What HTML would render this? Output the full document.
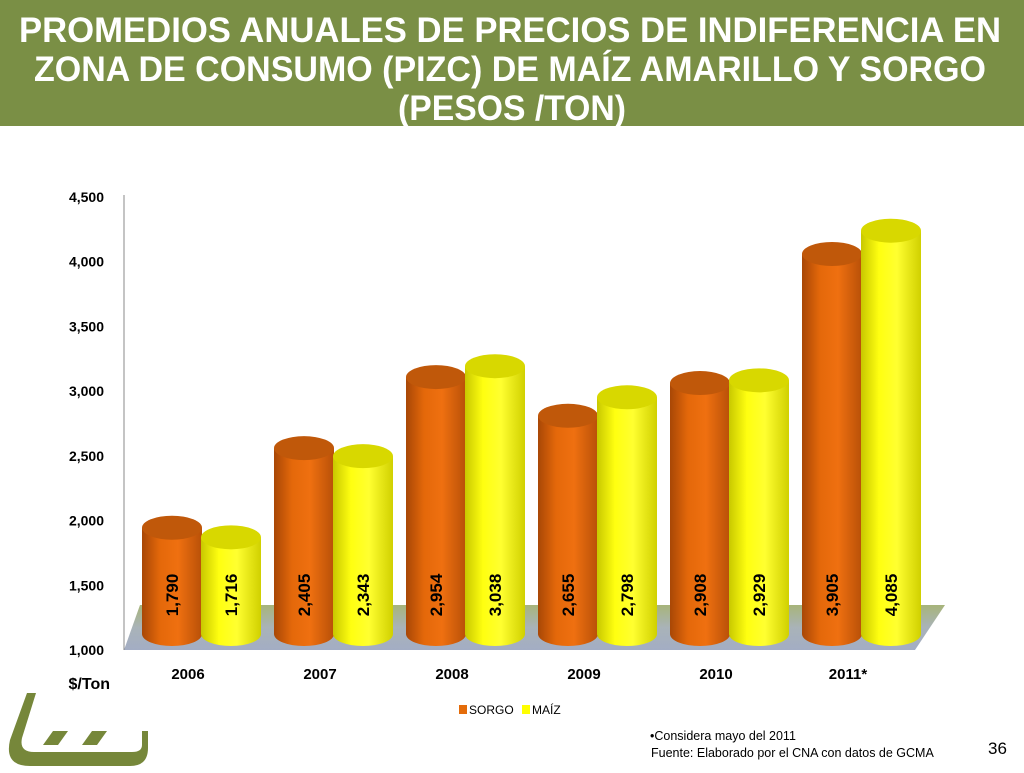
<!DOCTYPE html>
<html><head><meta charset="utf-8"><style>
body{margin:0;width:1024px;height:768px;overflow:hidden;background:#fff;font-family:"Liberation Sans",sans-serif}
</style></head><body>
<svg width="1024" height="768" viewBox="0 0 1024 768">
<defs>
<linearGradient id="gOr" x1="0" x2="1"><stop offset="0" stop-color="#a84706"/><stop offset="0.3" stop-color="#e4680a"/><stop offset="0.6" stop-color="#ef7010"/><stop offset="1" stop-color="#b85008"/></linearGradient>
<linearGradient id="gYe" x1="0" x2="1"><stop offset="0" stop-color="#c8c800"/><stop offset="0.3" stop-color="#ffff10"/><stop offset="0.6" stop-color="#ffff30"/><stop offset="1" stop-color="#d0d000"/></linearGradient>
<linearGradient id="gFloor" x1="0" y1="0" x2="0" y2="1"><stop offset="0" stop-color="#a7b47a"/><stop offset="0.5" stop-color="#a9b3b8"/><stop offset="1" stop-color="#a3adc4"/></linearGradient>
</defs>
<rect x="0" y="0" width="1024" height="126" fill="#7a8f45"/>
<g fill="#fff" font-weight="bold" font-size="35" text-anchor="middle">
<text x="510" y="42" textLength="982" lengthAdjust="spacingAndGlyphs">PROMEDIOS ANUALES DE PRECIOS DE INDIFERENCIA EN</text>
<text x="510" y="81" textLength="952" lengthAdjust="spacingAndGlyphs">ZONA DE CONSUMO (PIZC) DE MAÍZ AMARILLO Y SORGO</text>
<text x="512" y="120" textLength="228" lengthAdjust="spacingAndGlyphs">(PESOS /TON)</text>
</g>
<polygon points="124,650 140,605 945,605 915,650" fill="url(#gFloor)"/>
<line x1="124" y1="195" x2="124" y2="650" stroke="#888" stroke-width="1"/>
<g id="yticks" font-weight="bold" font-size="14" fill="#000" text-anchor="end"></g>
<text x="110" y="689" font-weight="bold" font-size="16" text-anchor="end">$/Ton</text>
<g id="bars"></g>
<g id="xlabels" font-weight="bold" font-size="15" text-anchor="middle"></g>
<g font-size="12">
<rect x="459" y="705" width="8" height="9" fill="#e46c0a"/>
<text x="469" y="714">SORGO</text>
<rect x="522" y="705" width="8" height="9" fill="#ffff00"/>
<text x="532" y="714">MAÍZ</text>
</g>
<g font-size="12.5">
<text x="650" y="740">•Considera  mayo  del 2011</text>
<text x="651" y="757">Fuente: Elaborado por el CNA con datos de GCMA</text>
</g>
<text x="988" y="754" font-size="17">36</text>
<g fill="#76873a">
<path d="M27,693 L36,693 L22,738 Q19,752 34,752 L132,752 Q142,752 142,745 L142,731 L148,731 L148,748 Q148,766 130,766 L30,766 Q4,766 10,740 Z"/>
<polygon points="53,731 68,731 58,745 43,745"/>
<polygon points="92,731 107,731 97,745 82,745"/>
</g>
</svg>
<script>
const categories=["2006","2007","2008","2009","2010","2011*"];
const sorgo=[1790,2405,2954,2655,2908,3905];
const maiz=[1716,2343,3038,2798,2929,4085];
const ticks=[1000,1500,2000,2500,3000,3500,4000,4500];
const tickLabels=["1,000","1,500","2,000","2,500","3,000","3,500","4,000","4,500"];
const fmt=v=>v.toLocaleString("en-US");
const ns="http://www.w3.org/2000/svg";
function y(v){return 650-(v-1000)*(453/3500);}
function groupX(i){return 202+i*132;}
const yt=document.getElementById("yticks");
ticks.forEach((t,i)=>{const e=document.createElementNS(ns,"text");
e.setAttribute("x",104);e.setAttribute("y",y(t)+5);e.textContent=tickLabels[i];


yt.appendChild(e);});
const xl=document.getElementById("xlabels");
categories.forEach((c,i)=>{const e=document.createElementNS(ns,"text");
e.setAttribute("x",groupX(i)-14);e.setAttribute("y",679);e.textContent=c;


xl.appendChild(e);});
const bg=document.getElementById("bars");
const w=60,ry=12,bottom=634;
function cyl(cx,v,grad,top,name){
const g=document.createElementNS(ns,"g");


const ty=y(v)-20;
const body=document.createElementNS(ns,"path");
body.setAttribute("d",`M${cx-w/2},${ty} L${cx-w/2},${bottom} A${w/2},${ry} 0 0 0 ${cx+w/2},${bottom} L${cx+w/2},${ty} Z`);
body.setAttribute("fill",grad);g.appendChild(body);
const el=document.createElementNS(ns,"ellipse");
el.setAttribute("cx",cx);el.setAttribute("cy",ty);el.setAttribute("rx",w/2);el.setAttribute("ry",ry);
el.setAttribute("fill",top);g.appendChild(el);
const t=document.createElementNS(ns,"text");
t.setAttribute("transform",`translate(${cx+6},595) rotate(-90)`);
t.setAttribute("text-anchor","middle");t.setAttribute("font-weight","bold");t.setAttribute("font-size","17");
t.textContent=fmt(v);g.appendChild(t);
bg.appendChild(g);}
categories.forEach((c,i)=>{
cyl(groupX(i)-30,sorgo[i],"url(#gOr)","#c0580a","bar-sorgo-"+c);
cyl(groupX(i)+29,maiz[i],"url(#gYe)","#d8d800","bar-maiz-"+c);
});
</script>
</body></html>
